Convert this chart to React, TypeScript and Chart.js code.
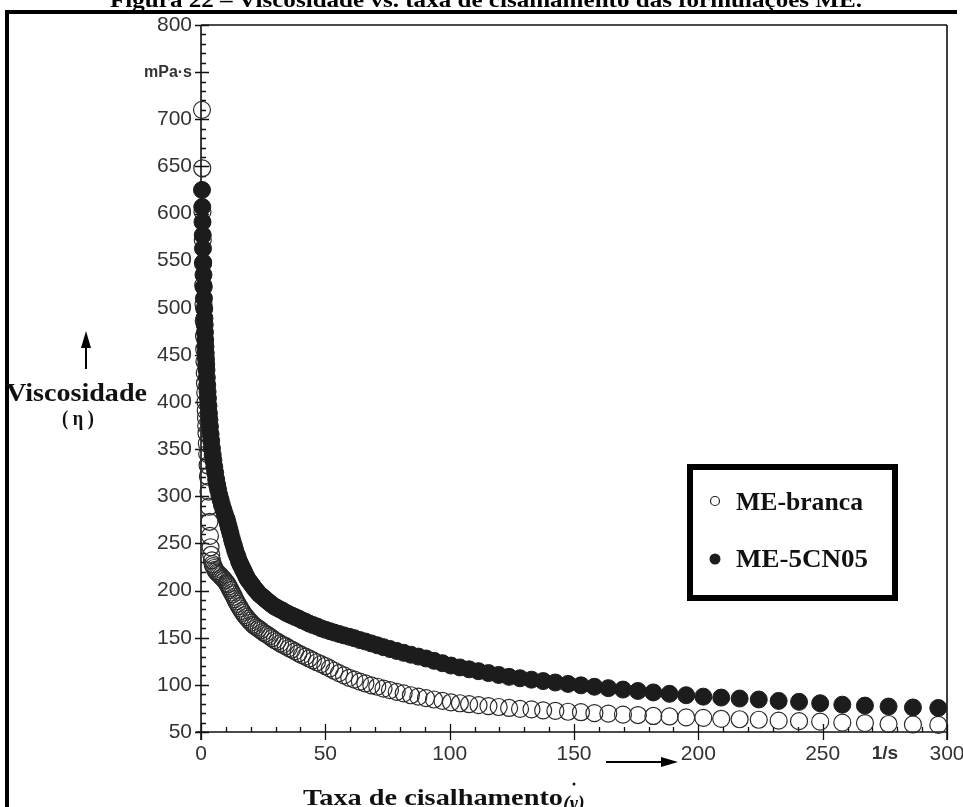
import React, { useEffect, useRef } from 'react';
import { Chart, registerables } from 'chart.js';

Chart.register(...registerables);

// Shear rate (1/s) of each measured point (shared by both series)
const shearRate: number[] = [
  0.4, 0.5, 0.6, 0.7, 0.8, 0.9, 1.0, 1.1, 1.2, 1.3, 1.4, 1.5, 1.6, 1.7, 1.8, 1.9, 2.0, 2.1, 2.2,
  2.35, 2.5, 2.65, 2.8, 3.0, 3.2, 3.4, 3.6, 3.85, 4.1, 4.4, 4.7, 5.0, 5.35, 5.7, 6.1, 6.5, 6.9,
  7.4, 7.9, 8.4, 9.0, 9.6, 10.3,
  10.7, 11.1, 11.5, 11.9, 12.4, 12.8, 13.3, 13.7, 14.2, 14.7,
  15.3, 15.8, 16.4, 16.9, 17.5, 18.2, 18.8, 19.5, 20.2, 20.9,
  21.6, 22.4, 23.2, 24.0, 24.9, 25.8, 26.7, 27.6, 28.6, 29.6,
  30.7, 31.8, 32.9, 34.1, 35.3, 36.5, 37.8, 39.2, 40.6, 42.0,
  43.5, 45.0, 46.6, 48.3, 50.0, 51.8, 53.6, 55.5, 57.5, 59.6,
  61.7, 63.9, 66.1, 68.5, 70.9, 73.4, 76.0, 78.7, 81.5, 84.4,
  87.4, 90.5, 93.7, 97.1, 100.5, 104.1, 107.8, 111.6, 115.6, 119.7,
  123.9, 128.3, 132.9, 137.6, 142.5, 147.6, 152.8, 158.2, 163.8, 169.7,
  175.7, 181.9, 188.4, 195.1, 202.0, 209.2, 216.6, 224.3, 232.3, 240.5,
  249.0, 257.9, 267.0, 276.5, 286.3, 296.5,
];

// Viscosity (mPa·s) – ME-branca (open circles)
const viscosityBranca: number[] = [
  710, 648, 602, 572, 547, 524, 504, 486, 470, 456, 443, 431, 420, 410, 400, 391, 383, 375, 367,
  356, 345, 333, 321, 305, 289, 273, 258, 246, 238, 232, 228, 226, 224, 222, 220.5, 219, 218,
  217, 215.5, 214, 212.5, 210.5, 208,
  206.5, 204.5, 202.5, 200.5, 198, 196, 193.5, 191, 188.5, 186,
  183.5, 181, 178.5, 176.5, 174, 172, 170, 168, 166, 164,
  162.5, 161, 159.5, 158, 156, 154.5, 153, 151.5, 149.5, 147.5,
  146, 144, 142.5, 141, 139, 137.5, 135.5, 133.5, 131.5, 130,
  128, 126, 124, 122, 120, 117.5, 115, 112.5, 110, 107.5,
  105.5, 103.5, 101.5, 99.5, 98, 96, 94.5, 92.5, 91, 89,
  87.5, 86, 84.5, 83, 81.5, 80.5, 79.5, 78.5, 77.5, 76.5,
  75.5, 74.5, 74, 73, 72.5, 71.5, 71, 70, 69.5, 68.5,
  68, 67, 66.5, 65.5, 65, 64, 63.5, 63, 62, 61.5,
  61, 60, 59.5, 58.5, 58, 57.5,
];

// Viscosity (mPa·s) – ME-5CN05 (filled circles)
const viscosity5CN05: number[] = [
  625, 607, 591, 577, 563, 548, 535, 522, 510, 499, 489, 482, 474, 466, 459, 452, 446, 440, 434,
  426, 418, 411, 404, 396, 388, 381, 374, 366, 359, 351, 344, 338, 331, 325, 318, 312, 307,
  301, 296, 291, 286, 281, 276,
  272, 268, 264, 260, 255, 251, 247, 243, 239, 236,
  231, 228, 225, 222, 219, 215, 212, 209.5, 207, 204.5,
  202, 199.5, 197, 195, 193, 191, 189, 187, 185, 183,
  181.5, 180, 178.5, 176.5, 175, 173.5, 172, 170.5, 168.5, 167,
  165, 163.5, 162, 160, 158.5, 157, 155.5, 154, 152.5, 151,
  149.5, 147.5, 146, 144, 142, 140, 138, 136, 134, 132,
  130, 128, 125.5, 123, 120.5, 118.5, 116.5, 114.5, 112.5, 110.5,
  108.5, 107, 105.5, 104, 102.5, 101, 99.5, 98, 96.5, 95,
  93.5, 92, 90.5, 89, 87.5, 86.5, 85.5, 84.5, 83, 82,
  80.5, 79, 78, 77, 76, 75.5,
];

const seriesLabels = ['ME-branca', 'ME-5CN05'];

const yMin = 50;
const yMax = 800;
const xMin = 0;
const xMax = 300;
const yTickValues = [50, 100, 150, 200, 250, 300, 350, 400, 450, 500, 550, 600, 650, 700, 750, 800];
const xTickValues = [0, 50, 100, 150, 200, 250, 275, 300];
const yUnitTick = 750;
const yUnitText = 'mPa·s';
const xUnitTick = 275;
const xUnitText = '1/s';

const figureTitle = 'Figura 22 – Viscosidade vs. taxa de cisalhamento das formulações ME.';
const yAxisTitle = 'Viscosidade';
const yAxisSymbol = '( η )';
const xAxisTitle = 'Taxa de cisalhamento';
const xAxisSymbol = '(γ)';

const SERIF = "'Liberation Serif', 'Times New Roman', serif";
const SANS = "Arial, 'Liberation Sans', sans-serif";

const axesPlugin = {
  id: 'rheoAxes',
  beforeDatasetsDraw(chart: any) {
    const { ctx, chartArea, scales } = chart;
    const { left, right, top, bottom } = chartArea;
    const xs = scales.x;
    const ys = scales.y;
    ctx.save();
    ctx.strokeStyle = '#111';
    ctx.lineWidth = 1.6;
    ctx.beginPath();
    ctx.moveTo(left, top);
    ctx.lineTo(right, top);
    ctx.moveTo(right, top);
    ctx.lineTo(right, bottom + 8);
    ctx.moveTo(left, top);
    ctx.lineTo(left, bottom + 8);
    ctx.moveTo(left - 5, bottom);
    ctx.lineTo(right, bottom);
    ctx.stroke();
    ctx.lineWidth = 1.3;
    ctx.beginPath();
    for (let v = yMin; v <= yMax; v += 10) {
      const py = Math.round(ys.getPixelForValue(v)) + 0.5;
      if (v % 50 === 0) {
        ctx.moveTo(left - 6, py);
        ctx.lineTo(left + 8, py);
      } else {
        ctx.moveTo(left, py);
        ctx.lineTo(left + 5, py);
      }
    }
    for (let v = xMin; v <= xMax; v += 10) {
      const px = Math.round(xs.getPixelForValue(v)) + 0.5;
      if (v % 50 === 0) {
        ctx.moveTo(px, bottom - 8);
        ctx.lineTo(px, bottom + 8);
      } else {
        ctx.moveTo(px, bottom - 5);
        ctx.lineTo(px, bottom);
      }
    }
    ctx.stroke();
    ctx.restore();
  },
};

export default function App() {
  const canvasRef = useRef<HTMLCanvasElement>(null);

  useEffect(() => {
    const canvas = canvasRef.current;
    if (!canvas) return;
    const filled = shearRate.map((x, i) => ({ x, y: viscosity5CN05[i] }));
    const open = shearRate.map((x, i) => ({ x, y: viscosityBranca[i] }));
    const chart = new Chart(canvas, {
      type: 'scatter',
      data: {
        datasets: [
          {
            label: seriesLabels[1],
            data: filled,
            pointRadius: 8.5,
            pointBackgroundColor: '#1c1c1c',
            pointBorderColor: '#1c1c1c',
            pointBorderWidth: 1,
            showLine: false,
            clip: false,
            order: 0,
          },
          {
            label: seriesLabels[0],
            data: open,
            pointRadius: 8.5,
            pointBackgroundColor: 'rgba(0,0,0,0)',
            pointBorderColor: '#2a2a2a',
            pointBorderWidth: 1.2,
            showLine: false,
            clip: false,
            order: 1,
          },
        ],
      },
      options: {
        responsive: false,
        animation: false,
        devicePixelRatio: 1,
        events: [],
        layout: { padding: { top: 25, right: 16, left: 0, bottom: 0 } },
        plugins: { legend: { display: false }, tooltip: { enabled: false }, title: { display: false } },
        scales: {
          x: {
            type: 'linear',
            min: xMin,
            max: xMax,
            grid: { display: false, drawTicks: false },
            border: { display: false },
            afterBuildTicks: (s: any) => {
              s.ticks = xTickValues.map((v) => ({ value: v }));
            },
            afterFit: (s: any) => {
              s.height = 75;
              s.paddingLeft = 0;
              s.paddingRight = 0;
            },
            ticks: {
              autoSkip: false,
              maxRotation: 0,
              padding: 10,
              color: '#333',
              font: (c: any) =>
                c.tick && c.tick.value === xUnitTick
                  ? { family: SANS, size: 19, weight: 'bold' }
                  : { family: SANS, size: 21, weight: 'normal' },
              callback: (v: any) => (v === xUnitTick ? xUnitText : String(v)),
            },
          },
          y: {
            type: 'linear',
            min: yMin,
            max: yMax,
            grid: { display: false, drawTicks: false },
            border: { display: false },
            afterBuildTicks: (s: any) => {
              s.ticks = yTickValues.map((v) => ({ value: v }));
            },
            afterFit: (s: any) => {
              s.width = 201;
              s.paddingTop = 0;
              s.paddingBottom = 0;
            },
            ticks: {
              autoSkip: false,
              padding: 9,
              color: '#333',
              font: (c: any) =>
                c.tick && c.tick.value === yUnitTick
                  ? { family: SANS, size: 16, weight: 'bold' }
                  : { family: SANS, size: 21, weight: 'normal' },
              callback: (v: any) => (v === yUnitTick ? yUnitText : String(v)),
            },
          },
        },
      },
      plugins: [axesPlugin],
    });
    return () => chart.destroy();
  }, []);

  return (
    <div
      style={{
        position: 'fixed',
        left: 0,
        top: 0,
        width: 963,
        height: 807,
        background: '#fff',
        overflow: 'hidden',
      }}
    >
      <canvas ref={canvasRef} width={963} height={807} style={{ position: 'absolute', left: 0, top: 0 }} />
      <svg
        width={963}
        height={807}
        style={{ position: 'absolute', left: 0, top: 0, pointerEvents: 'none' }}
      >
        <text x={110} y={7} textLength={752} lengthAdjust="spacingAndGlyphs" fontFamily={SERIF} fontWeight="bold" fontSize={22} fill="#000">
          {figureTitle}
        </text>
        <rect x={5} y={10} width={952} height={4} fill="#000" />
        <rect x={5} y={10} width={4} height={797} fill="#000" />

        <line x1={86} y1={369} x2={86} y2={345} stroke="#000" strokeWidth={2} />
        <polygon points="86,331 81,348 91,348" fill="#000" />
        <text x={6} y={401} textLength={141} lengthAdjust="spacingAndGlyphs" fontFamily={SERIF} fontWeight="bold" fontSize={25} fill="#111">
          {yAxisTitle}
        </text>
        <text x={62} y={425} textLength={32} lengthAdjust="spacingAndGlyphs" fontFamily={SERIF} fontWeight="bold" fontSize={22} fill="#111">
          {yAxisSymbol}
        </text>

        <text x={303} y={805} textLength={260} lengthAdjust="spacingAndGlyphs" fontFamily={SERIF} fontWeight="bold" fontSize={24} fill="#111">
          {xAxisTitle}
        </text>
        <text x={563} y={810} fontFamily={SERIF} fontWeight="bold" fontStyle="italic" fontSize={20} fill="#111">
          {xAxisSymbol}
        </text>
        <circle cx={574} cy={784} r={1.5} fill="#111" />
        <line x1={606} y1={762} x2={664} y2={762} stroke="#000" strokeWidth={2} />
        <polygon points="678,762 661,757 661,767" fill="#000" />

        <rect x={690} y={467} width={205} height={131} fill="#fff" stroke="#000" strokeWidth={6} />
        <circle cx={715} cy={501} r={4.5} fill="#fff" stroke="#222" strokeWidth={1.2} />
        <text x={736} y={510} textLength={127} lengthAdjust="spacingAndGlyphs" fontFamily={SERIF} fontWeight="bold" fontSize={26} fill="#111">
          {seriesLabels[0]}
        </text>
        <circle cx={715} cy={559} r={5.5} fill="#1c1c1c" />
        <text x={736} y={567} textLength={132} lengthAdjust="spacingAndGlyphs" fontFamily={SERIF} fontWeight="bold" fontSize={26} fill="#111">
          {seriesLabels[1]}
        </text>
      </svg>
    </div>
  );
}
